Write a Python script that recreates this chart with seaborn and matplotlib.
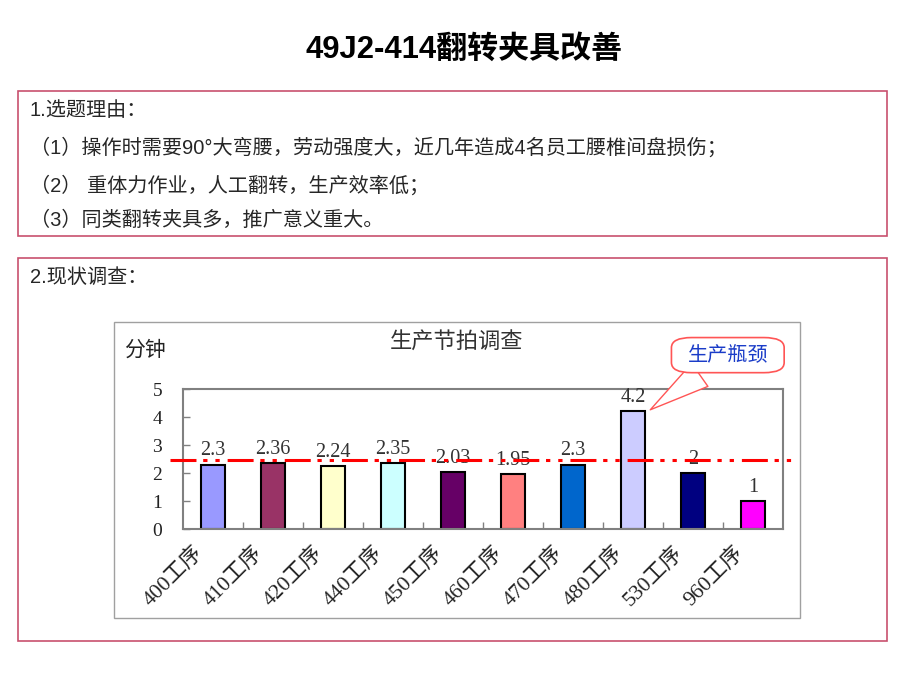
import matplotlib
matplotlib.use('Agg')
import matplotlib.pyplot as plt
import matplotlib.transforms as mtrans
from matplotlib.patches import Rectangle
import seaborn as sns
import pandas as pd

# ---------------- data ----------------
processes = ['400工序', '410工序', '420工序', '440工序', '450工序',
             '460工序', '470工序', '480工序', '530工序', '960工序']
cycle_minutes = [2.3, 2.36, 2.24, 2.35, 2.03, 1.95, 2.3, 4.2, 2, 1]
value_labels = ['2.3', '2.36', '2.24', '2.35', '2.03', '1.95', '2.3', '4.2', '2', '1']
bar_colors = ['#9999FF', '#993366', '#FFFFCC', '#CCFFFF', '#660066',
              '#FF8080', '#0066CC', '#CCCCFF', '#000080', '#FF00FF']
y_ticks = [0, 1, 2, 3, 4, 5]
takt_line = 2.45
bottleneck_index = 7

title = '49J2-414翻转夹具改善'
reasons_heading = '1.选题理由：'
reasons = ['（1）操作时需要90°大弯腰，劳动强度大，近几年造成4名员工腰椎间盘损伤；',
           '（2） 重体力作业，人工翻转，生产效率低；',
           '（3）同类翻转夹具多，推广意义重大。']
survey_heading = '2.现状调查：'
chart_title = '生产节拍调查'
y_unit = '分钟'
callout_text = '生产瓶颈'

# ---------------- style ----------------
sns.set_theme(style='white')
plt.rcParams['font.family'] = ['Liberation Sans', 'Noto Sans CJK SC', 'DejaVu Sans']
serif = ['Liberation Serif', 'Noto Sans CJK SC', 'DejaVu Serif']

W, H = 920, 690
fig = plt.figure(figsize=(W / 100, H / 100), dpi=100)
fig.patch.set_facecolor('white')


def fx(x):
    return x / W


def fy(y):
    return 1 - y / H


# title
fig.text(fx(464), fy(50), title, ha='center', va='center',
         fontsize=22.3, fontweight='bold', color='black')

box_color = '#C8506E'
# box 1
fig.add_artist(Rectangle((fx(18), fy(236)), (887 - 18) / W, (236 - 91) / H,
                         transform=fig.transFigure, fill=False, ec=box_color, lw=1.2))
fig.text(fx(30), fy(110), reasons_heading, ha='left', va='center', fontsize=14.5)
for t, yy in zip(reasons, [147, 185, 220]):
    fig.text(fx(30), fy(yy), t, ha='left', va='center', fontsize=14.5)

# box 2
fig.add_artist(Rectangle((fx(18), fy(641)), (887 - 18) / W, (641 - 258) / H,
                         transform=fig.transFigure, fill=False, ec=box_color, lw=1.2))
fig.text(fx(30), fy(277), survey_heading, ha='left', va='center', fontsize=14.5)

# chart frame
fig.add_artist(Rectangle((fx(114), fy(618)), (800 - 114) / W, (618 - 322) / H,
                         transform=fig.transFigure, fill=False, ec='#A0A0A0', lw=1.0))
fig.text(fx(145), fy(350), y_unit, ha='center', va='center', fontsize=15, color='#222222')
fig.text(fx(457), fy(343), chart_title, ha='center', va='center', fontsize=16, color='#333333')

# ---------------- chart ----------------
ax = fig.add_axes([fx(183), fy(529), 600 / W, (529 - 389) / H])
df = pd.DataFrame({'process': processes, 'minutes': cycle_minutes})
sns.barplot(data=df, x='process', y='minutes', hue='process',
            palette=dict(zip(processes, bar_colors)), legend=False,
            width=0.4, edgecolor='black', linewidth=1.5, saturation=1, ax=ax)

ax.set_xlim(-0.5, len(processes) - 0.5)
ax.set_ylim(0, 5)
ax.set_xlabel('')
ax.set_ylabel('')
ax.set_facecolor('white')
for s in ax.spines.values():
    s.set_visible(True)
    s.set_color('#808080')
    s.set_linewidth(1.5)

ax.set_yticks(y_ticks)
ax.set_yticklabels([str(v) for v in y_ticks])
ax.tick_params(axis='y', direction='in', length=5, color='#808080', width=1,
               pad=15, labelsize=14, labelcolor='#222222', left=True)
for lab in ax.get_yticklabels():
    lab.set_family(serif)

ax.set_xticks(range(len(processes)))
ax.set_xticklabels(processes, rotation=45, ha='right', rotation_mode='anchor',
                   fontsize=15.5, color='#222222')
ax.tick_params(axis='x', which='major', length=0, pad=10)
ax.set_xticks([i + 0.5 for i in range(len(processes) - 1)], minor=True)
ax.tick_params(axis='x', which='minor', direction='in', length=5, color='#808080',
               width=1, bottom=True)
shift = mtrans.ScaledTranslation(-20 / 100, 0, fig.dpi_scale_trans)
for lab in ax.get_xticklabels():
    lab.set_family(serif)
    lab.set_transform(lab.get_transform() + shift)

# value labels
for i, (v, lab) in enumerate(zip(cycle_minutes, value_labels)):
    ax.annotate(lab, (i, v), xytext=(0, 3), textcoords='offset points',
                ha='center', va='bottom', fontsize=14.5, color='#333333',
                family=serif)

# takt reference line
trans = mtrans.blended_transform_factory(ax.transAxes, ax.transData)
ax.plot([-0.022, 1.017], [takt_line, takt_line], transform=trans, clip_on=False,
        color='#FF0000', lw=2.2, linestyle=(0, (8.5, 2.2, 1.4, 2.6, 1.4, 2.6)),
        zorder=6)

# callout
ax.annotate(callout_text, xy=(bottleneck_index + 0.25, cycle_minutes[bottleneck_index]),
            xytext=(8.58, 6.21), textcoords='data', ha='center', va='center',
            fontsize=14.5, color='#1A3CC8', annotation_clip=False, zorder=8,
            bbox=dict(boxstyle='round,pad=0.8,rounding_size=1.0', fc='white',
                      ec='#FF5555', lw=1.2, mutation_aspect=0.5),
            arrowprops=dict(arrowstyle='wedge,tail_width=1.4,shrink_factor=0.5',
                            fc='white', ec='#FF5555', lw=1))

fig.savefig('out.png', dpi=100, facecolor='white')
